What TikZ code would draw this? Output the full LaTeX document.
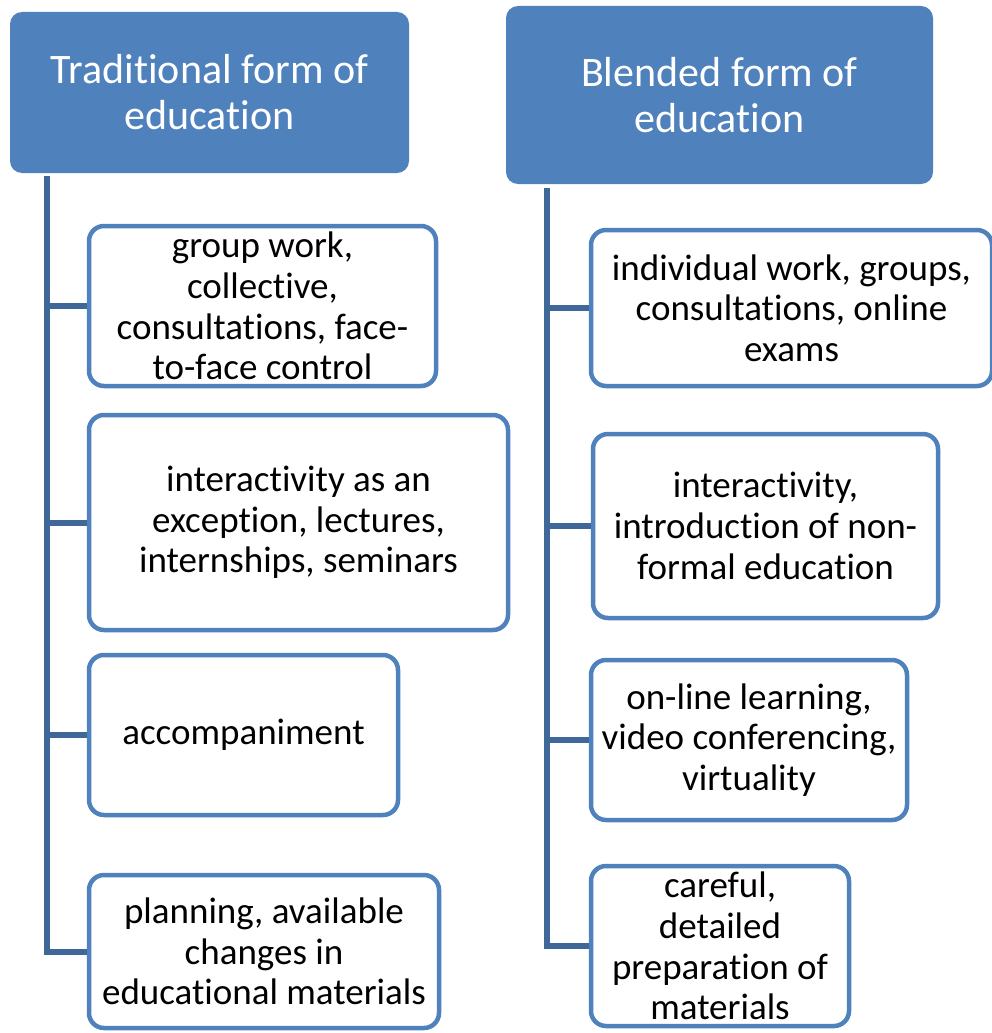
\documentclass[tikz,border=0pt]{standalone}
\usepackage{fontspec}
\setmainfont{Carlito}[Ligatures={NoCommon,NoRare,NoContextual}]
\definecolor{hdblue}{HTML}{4F81BD}
\definecolor{spineblue}{HTML}{3F6797}
\tikzset{
  head/.style={fill=hdblue, rounded corners=12pt, text=white, align=center,
    font=\fontsize{42}{46}\selectfont, inner sep=0pt},
  item/.style={draw=hdblue, line width=4.5pt, rounded corners=15pt, fill=white,
    align=center, font=\fontsize{37}{40.7}\selectfont, inner sep=0pt},
  link/.style={draw=spineblue, line width=6pt}
}

\begin{document}
\begin{tikzpicture}[x=1pt,y=-1pt]
  \useasboundingbox (0,0) rectangle (991,1033);
  % headers
  \node[head, minimum width=399, minimum height=161] (lhead) at (209.5,92.5) {Traditional form of\\education};
  \node[head, minimum width=427, minimum height=178] (rhead) at (719.5,95) {Blended form of\\education};
  % left column
  \node[item, minimum width=347, minimum height=160] (l1) at (262.5,306) {group work,\\collective,\\consultations, face-\\to-face control};
  \node[item, minimum width=419, minimum height=215] (l2) at (298.5,522.5) {interactivity as an\\exception, lectures,\\internships, seminars};
  \node[item, minimum width=309, minimum height=160] (l3) at (243.5,735) {accompaniment};
  \node[item, minimum width=350, minimum height=153] (l4) at (264,951.5) {planning, available\\changes in\\educational materials};
  % right column
  \node[item, minimum width=401, minimum height=156] (r1) at (791.5,308) {individual work, groups,\\consultations, online\\exams};
  \node[item, minimum width=345, minimum height=184] (r2) at (765.5,526) {interactivity,\\introduction of non-\\formal education};
  \node[item, minimum width=316, minimum height=160] (r3) at (749,740) {on-line learning,\\video conferencing,\\virtuality};
  \node[item, minimum width=258, minimum height=160] (r4) at (720,946) {careful,\\detailed\\preparation of\\materials};
  % spines
  \coordinate (ltop) at (47,176);
  \coordinate (rtop) at (547,188);
  \foreach \b in {l1,l2,l3,l4} \draw[link] (ltop) |- (\b.west);
  \foreach \b in {r1,r2,r3,r4} \draw[link] (rtop) |- (\b.west);
\end{tikzpicture}
\end{document}
